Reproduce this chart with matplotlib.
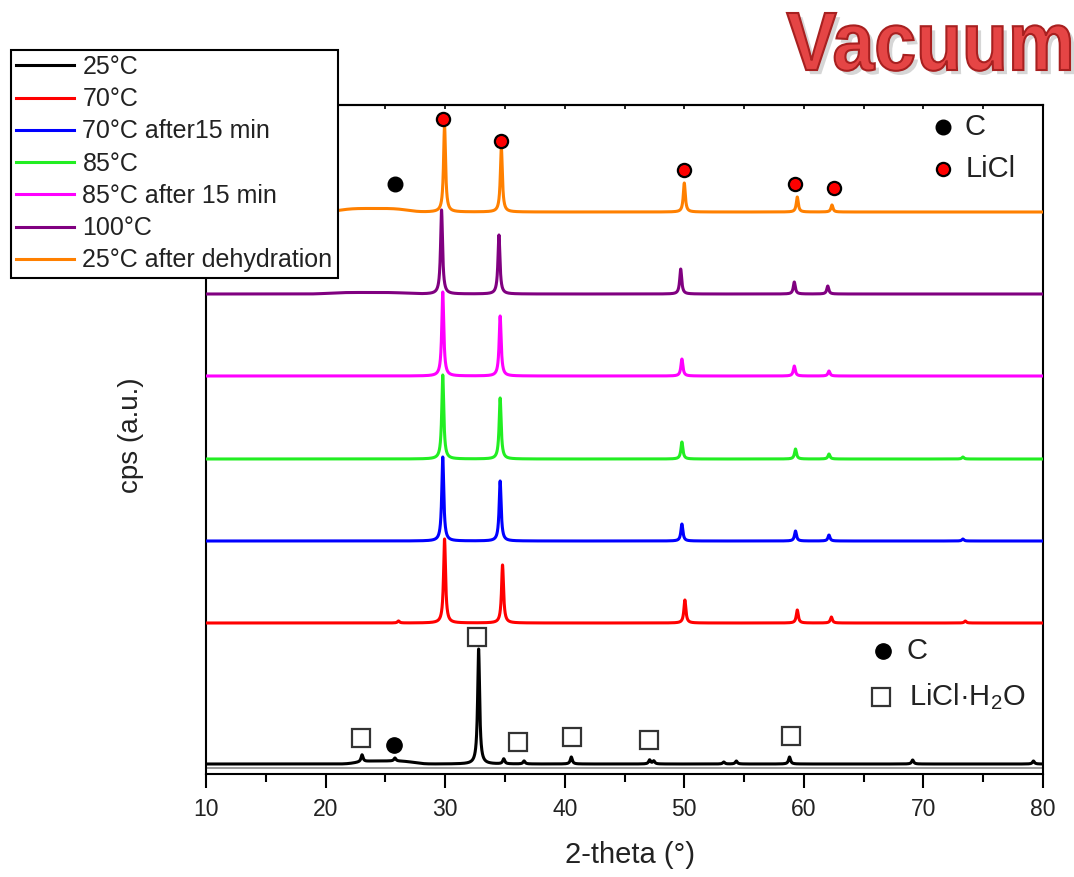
import numpy as np
import matplotlib
matplotlib.use("Agg")
import matplotlib.pyplot as plt
from matplotlib.textpath import TextPath
from matplotlib.patches import PathPatch
from matplotlib.font_manager import FontProperties
from matplotlib.transforms import Affine2D
import matplotlib.patheffects as pe

plt.rcParams['font.family'] = ['Liberation Sans', 'DejaVu Sans']
plt.rcParams['mathtext.default'] = 'regular'

# traces: peak positions (2-theta), peak heights (a.u.), baseline offset
labels = ["25°C", "70°C", "70°C after15 min", "85°C", "85°C after 15 min",
          "100°C", "25°C after dehydration"]
colors = ["#000000", "#ff0000", "#0000ff", "#22ee22", "#ff00ff", "#800080", "#ff8000"]
offsets = [10, 151, 233, 315, 398, 480, 562]

pos_25 = [23.05, 25.8, 32.8, 34.9, 36.6, 40.55, 47.1, 47.45, 53.3, 54.35, 58.8, 69.1, 79.2]
int_25 = [7, 3, 115, 5, 3, 7, 4, 3, 2, 3, 7, 4, 3]
pos_70 = [26.1, 29.95, 34.8, 50.05, 59.45, 62.3, 73.5]
int_70 = [2, 84, 58, 23, 13, 6, 2]
pos_70b = [29.8, 34.6, 49.8, 59.3, 62.1, 73.3]
int_70b = [84, 60, 17, 10, 6, 2]
pos_85 = [29.8, 34.6, 49.8, 59.3, 62.1, 73.3]
int_85 = [84, 61, 17, 10, 5, 2]
pos_85b = [29.8, 34.6, 49.8, 59.2, 62.1]
int_85b = [84, 60, 17, 10, 5]
pos_100 = [29.7, 34.5, 49.7, 59.2, 62.0]
int_100 = [84, 59, 25, 12, 8]
pos_dehy = [29.95, 34.7, 50.0, 59.45, 62.35]
int_dehy = [87, 65, 29, 15, 7]

# broad amorphous humps: centre, half-width, height
humps = [(25.0, 2.2, 3), (0, 1, 0), (0, 1, 0), (0, 1, 0), (0, 1, 0),
         (23.5, 3.0, 1.5), (24.0, 2.6, 3.5)]

peak_pos = [pos_25, pos_70, pos_70b, pos_85, pos_85b, pos_100, pos_dehy]
peak_int = [int_25, int_70, int_70b, int_85, int_85b, int_100, int_dehy]

# phase markers
licl_x = [29.8, 34.7, 50.0, 59.3, 62.5]
licl_y = [655, 633, 604, 590, 586]
c_top = (25.8, 590)
hyd_x = [23.0, 32.7, 36.1, 40.6, 47.05, 58.9]
hyd_y = [36, 137, 32, 37, 34, 38]
c_bot = (25.7, 29)

tt = np.linspace(10, 80, 7001)
w = 0.1

fig = plt.figure(figsize=(10.74, 8.77), dpi=100)
ax = fig.add_axes([206/1074, 1-774/877, 837/1074, 669/877])

for i in range(len(labels)):
    y = np.full_like(tt, float(offsets[i]))
    for c, h in zip(peak_pos[i], peak_int[i]):
        y += h * w**2 / ((tt - c)**2 + w**2)
    hc, hw, hh = humps[i]
    y += hh * np.exp(-0.5 * ((tt - hc) / hw)**4)
    ax.plot(tt, y, color=colors[i], lw=2.2, label=labels[i], zorder=2+i)

ax.axhline(6, color="#8a8a8a", lw=1.2, zorder=1)

# markers
ax.plot(licl_x, licl_y, 'o', ms=9.5, mfc='red', mec='black', mew=1.6, zorder=20)
ax.plot(*c_top, 'o', ms=10.5, color='black', zorder=20)
ax.plot(hyd_x, hyd_y, 's', ms=13, mfc='white', mec='#333333', mew=1.6, zorder=20)
ax.plot(*c_bot, 'o', ms=11, color='black', zorder=20)

# inner keys
ax.plot(71.6, 647, 'o', ms=10.5, color='black', zorder=20)
ax.plot(71.6, 605, 'o', ms=9.5, mfc='red', mec='black', mew=1.6, zorder=20)
ax.text(73.4, 647, "C", fontsize=21, color='#222222', va='center', ha='left')
ax.text(73.5, 605, "LiCl", fontsize=21, color='#222222', va='center', ha='left')
ax.plot(66.6, 123, 'o', ms=11, color='black', zorder=20)
ax.plot(66.45, 77, 's', ms=13, mfc='white', mec='#333333', mew=1.6, zorder=20)
ax.text(68.6, 123, "C", fontsize=21, color='#222222', va='center', ha='left')
ax.text(68.8, 77, "LiCl·H$_2$O", fontsize=21, color='#222222', va='center', ha='left')

ax.set_xlim(10, 80)
ax.set_ylim(0, 669)
ax.set_xticks(np.arange(10, 81, 10))
ax.set_xticks(np.arange(15, 80, 10), minor=True)
ax.set_yticks([])
ax.tick_params(axis='x', which='major', direction='out', length=10, width=1.5,
               labelsize=16.5, labelcolor='#222222', pad=7)
ax.tick_params(axis='x', which='minor', direction='out', length=6, width=1.5)
for s in ax.spines.values():
    s.set_linewidth(1.5)

top = ax.secondary_xaxis('top')
top.set_xticks(np.arange(10, 81, 5))
top.tick_params(direction='in', length=3, width=1.2, labeltop=False)
top.spines['top'].set_linewidth(1.5)

ax.set_xlabel("2-theta (°)", fontsize=21, color='#222222')
ax.xaxis.set_label_coords(0.507, -0.1)
ax.set_ylabel("cps (a.u.)", fontsize=20, color='#222222')
ax.yaxis.set_label_coords(-0.074, 0.507)

handles, labs = ax.get_legend_handles_labels()
leg = fig.legend(handles[:7], labs[:7], loc='upper left',
                 bbox_to_anchor=(11/1074, 1-50/877), borderaxespad=0,
                 fontsize=18, frameon=True, fancybox=False, framealpha=1,
                 edgecolor='black', borderpad=0.2, labelspacing=0.33,
                 handlelength=2.3, handletextpad=0.36)
leg.get_frame().set_linewidth(1.5)
for t in leg.get_texts():
    t.set_color('#222222')
leg.set_zorder(50)

# "Vacuum" title, stretched to the box it fills in the reference
fp = FontProperties(family='Liberation Sans', weight='bold')
tp = TextPath((0, 0), "Vacuum", size=1, prop=fp)
ext = tp.get_extents()
tr = (Affine2D().translate(-ext.x0, 0)
      .scale(283/ext.width, 57/ext.y1)
      .translate(787, 877-70))
patch = PathPatch(tp, transform=tr, facecolor='#e54545', edgecolor='#a82020', lw=1.5,
                  path_effects=[pe.SimplePatchShadow(offset=(3, -3), shadow_rgbFace='#999999', alpha=0.4),
                                pe.Normal()])
fig.add_artist(patch)

fig.savefig("out.png", dpi=100)
